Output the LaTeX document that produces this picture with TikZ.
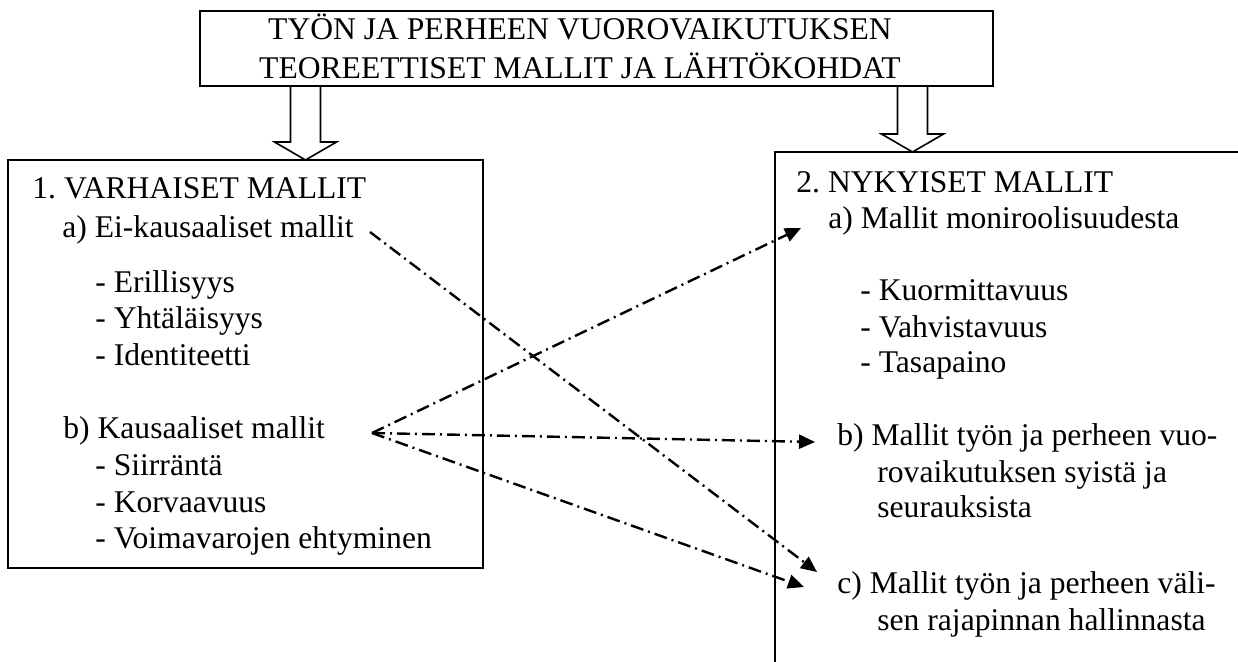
\documentclass[tikz,border=0pt]{standalone}
\usepackage{fontspec}
\setmainfont{Liberation Serif}
\usetikzlibrary{arrows.meta,calc}
\frenchspacing

% hollow block arrow pointing down, from #1 to #2
\newcommand{\hollowdown}[2]{%
  \draw[hollow] let \p1=#1, \p2=#2 in
    (\x1-7.5pt,\y1) -- (\x1+7.5pt,\y1) -- (\x1+7.5pt,\y2+9pt) -- (\x1+15.5pt,\y2+9pt)
    -- (\x2,\y2) -- (\x1-15.5pt,\y2+9pt) -- (\x1-7.5pt,\y2+9pt) -- cycle;}

\tikzset{
  boxline/.style={draw, line width=1pt, inner sep=0pt},
  txt/.style={anchor=base west, inner sep=0pt, font=\fontsize{15.8}{18.25}\selectfont},
  ttl/.style={anchor=base, inner sep=0pt, font=\fontsize{15.8}{18.25}\selectfont},
  hollow/.style={draw, line width=0.8pt, fill=white},
  dashdot/.style={line width=1.2pt, dash pattern=on 6.5pt off 2.5pt on 1pt off 2.5pt,
    -{Triangle[length=8pt,width=7pt]}},
}

\begin{document}
\begin{tikzpicture}[x=0.5pt, y=-0.5pt]
\useasboundingbox (0,0) rectangle (1238,661);
\clip (0,0) rectangle (1238,661);

% boxes
\node[boxline, line width=1.4pt, minimum width=396.5pt, minimum height=37.5pt] (title) at (596.5,48.5) {};
\node[boxline, minimum width=237.5pt, minimum height=204pt] (early) at (245.5,364) {};
\node[boxline, minimum width=237.5pt, minimum height=264pt] (now) at (1012.5,416) {};

% title
\node[ttl] (title1) at (580,39) {TYÖN JA PERHEEN VUOROVAIKUTUKSEN};
\node[ttl] (title2) at (580,78) {TEOREETTISET MALLIT JA LÄHTÖKOHDAT};

% hollow arrows
\coordinate (arrL-top) at (305.5,86);
\coordinate (arrL-tip) at (305.5,160);
\coordinate (arrR-top) at (912.5,86);
\coordinate (arrR-tip) at (912.5,152);
\hollowdown{(arrL-top)}{(arrL-tip)}
\hollowdown{(arrR-top)}{(arrR-tip)}

% left box
\node[txt] (l-head) at (32,198) {1. VARHAISET MALLIT};
\node[txt] (l-a)    at (62,237) {a) Ei-kausaaliset mallit};
\node[txt] (l-a1)   at (95,292) {- Erillisyys};
\node[txt] (l-a2)   at (95,328) {- Yhtäläisyys};
\node[txt] (l-a3)   at (95,365) {- Identiteetti};
\node[txt] (l-b)    at (63,438) {b) Kausaaliset mallit};
\node[txt] (l-b1)   at (95,475) {- Siirräntä};
\node[txt] (l-b2)   at (95,512) {- Korvaavuus};
\node[txt] (l-b3)   at (95,548) {- Voimavarojen ehtyminen};

% right box
\node[txt] (r-head) at (796,192) {2. NYKYISET MALLIT};
\node[txt] (r-a)    at (828,228) {a) Mallit moniroolisuudesta};
\node[txt] (r-a1)   at (860,300) {- Kuormittavuus};
\node[txt] (r-a2)   at (860,337) {- Vahvistavuus};
\node[txt] (r-a3)   at (860,372) {- Tasapaino};
\node[txt] (r-b)    at (837,445) {b) Mallit työn ja perheen vuo-};
\node[txt] (r-b2)   at (877,482) {rovaikutuksen syistä ja};
\node[txt] (r-b3)   at (877,517) {seurauksista};
\node[txt] (r-c)    at (837,593) {c) Mallit työn ja perheen väli-};
\node[txt] (r-c2)   at (877,630) {sen rajapinnan hallinnasta};

% dash-dot links
\coordinate (fromA) at (370,232);
\coordinate (fromB) at (372,433);
\coordinate (toA)   at (801,228);
\coordinate (toB)   at (815,442);
\coordinate (toC1)  at (817,572);
\coordinate (toC2)  at (804,587);
\draw[dashdot] (fromA) -- (toC1);
\draw[dashdot] (fromB) -- (toA);
\draw[dashdot] (fromB) -- (toB);
\draw[dashdot] (fromB) -- (toC2);
\end{tikzpicture}
\end{document}
